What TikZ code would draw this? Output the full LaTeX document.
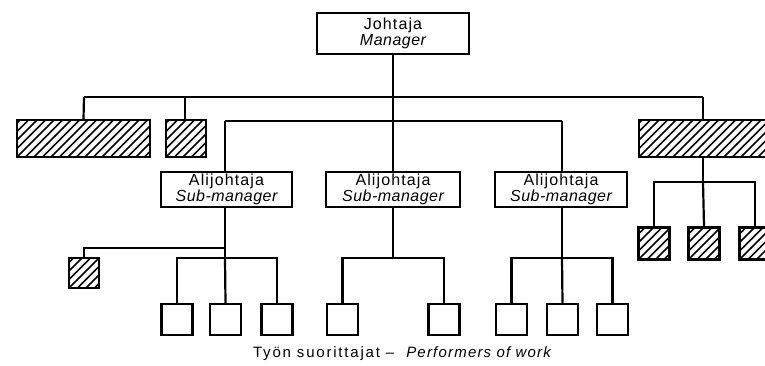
\documentclass[tikz,border=0pt]{standalone}
\usepackage{fontspec}
\setmainfont{Liberation Sans}
\newfontfamily\lblfont[LetterSpace=7,ItalicFeatures={LetterSpace=3}]{Liberation Sans}
\newfontfamily\capfont[LetterSpace=12,ItalicFeatures={LetterSpace=8}]{Liberation Sans}
\begin{document}
\begin{tikzpicture}[x=1pt,y=-1pt,
  line width=2.2pt,
  sqbox/.style={draw,line width=2.2pt,inner sep=0pt,minimum width=31pt,minimum height=31pt},
  hbox/.style={draw,line width=2.2pt,inner sep=0pt,hatch},
  labelbox/.style={draw,line width=2.2pt,inner sep=0pt,align=center,
     font=\lblfont\fontsize{16}{15.5}\selectfont},
  hatch/.style={path picture={
     \foreach \k in {-25,...,25}
       \draw[line width=1.7pt] ([xshift=\k*8.5pt]path picture bounding box.south west) -- ++(60pt,60pt);}},
  capt/.style={font=\capfont\fontsize{15}{15}\selectfont,inner sep=0pt}
]
\useasboundingbox (0,0) rectangle (765,365);

% manager
\node[labelbox,minimum width=152pt,minimum height=41pt] (mgr) at (393,33.5)
  {Johtaja\\\itshape Manager};

% staff (hatched) boxes on top bar
\node[hbox,minimum width=133pt,minimum height=37pt] (hL) at (83.5,138.5) {};
\node[hbox,minimum width=40pt,minimum height=37pt] (hS) at (186,138.5) {};
\node[hbox,minimum width=128pt,minimum height=37pt] (hR) at (703,138.5) {};

% sub-managers
\node[labelbox,minimum width=131pt,minimum height=35pt] (s1) at (226.5,189.5)
  {Alijohtaja\\\itshape Sub-manager};
\node[labelbox,minimum width=134pt,minimum height=35pt] (s2) at (393,189.5)
  {Alijohtaja\\\itshape Sub-manager};
\node[labelbox,minimum width=132pt,minimum height=35pt] (s3) at (561,189.5)
  {Alijohtaja\\\itshape Sub-manager};

% small hatched box under s1
\node[sqbox,hatch,minimum width=30pt,minimum height=30pt] (hsm) at (84,273) {};

% performers
\node[sqbox] (p1) at (177,319.5) {};
\node[sqbox] (p2) at (225.5,319.5) {};
\node[sqbox] (p3) at (277,319.5) {};
\node[sqbox] (p4) at (342.5,319.5) {};
\node[sqbox] (p5) at (444,319.5) {};
\node[sqbox] (p6) at (511.5,319.5) {};
\node[sqbox] (p7) at (562.5,319.5) {};
\node[sqbox] (p8) at (612.5,319.5) {};

% hatched squares under hR
\node[sqbox,hatch,minimum height=32pt] (r1) at (654,243.5) {};
\node[sqbox,hatch,minimum height=32pt] (r2) at (704,243.5) {};
\node[sqbox,hatch,minimum height=32pt] (r3) at (755,243.5) {};

% caption
\node[capt,anchor=base west] (cap) at (252,357) {Työn suorittajat –\ \ \itshape Performers of work};

% junction coordinates
\coordinate (t1) at (84,97);
\coordinate (t2) at (703,97);
\coordinate (m1) at (225,121);
\coordinate (m2) at (562,121);

% connectors
\draw (mgr.south) -- (s2.north);
\draw (t1) -- (t2);
\draw (t1) -- (hL.north);
\draw (hS.north -| 185,0) |- (t1);
\draw (t2) -- (hR.north);
\draw (m1) -- (m2);
\draw (m1) -- (s1.north -| m1);
\draw (m2) -- (s3.north -| m2);

% sub-manager 1
\draw (s1.south -| m1) -- (225,258);
\draw (225,248) -| (hsm.north);
\draw (p1.north) |- (225,258) -| (p3.north);
\draw (225,258) -- (p2.north);

% sub-manager 2
\draw (s2.south) -- (393,258);
\draw (p4.north) |- (393,258) -| (p5.north);

% sub-manager 3
\draw (s3.south -| m2) -- (562,258);
\draw (p6.north) |- (562,258) -| (p8.north);
\draw (562,258) -- (p7.north);

% right group
\draw (hR.south) -- (703,182);
\draw (r1.north) |- (703,182) -| (r3.north);
\draw (703,182) -- (r2.north);
\end{tikzpicture}
\end{document}
